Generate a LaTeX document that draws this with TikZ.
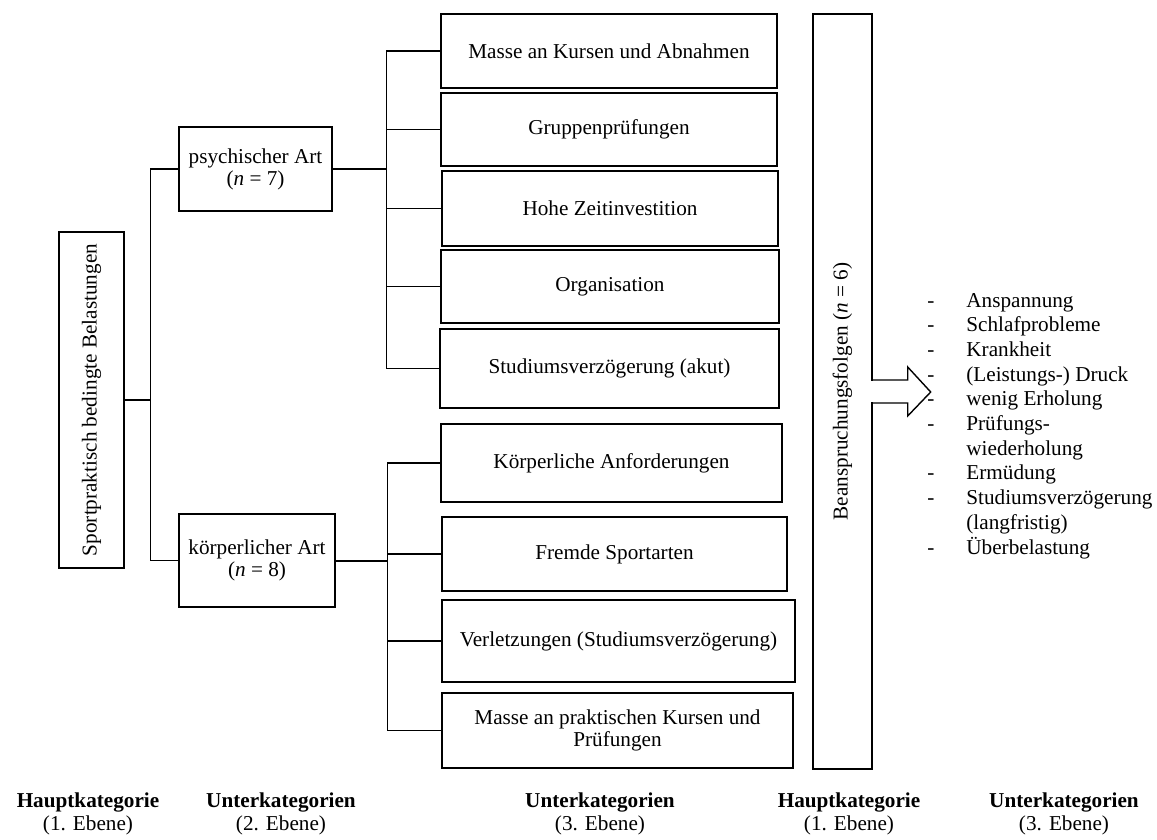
\documentclass[tikz,border=0pt]{standalone}
\usepackage{graphicx}
\usepackage{fontspec}
\setmainfont{Liberation Serif}
\usetikzlibrary{calc}
\begin{document}
\begin{tikzpicture}[x=0.5pt,y=-0.5pt,
  box/.style={draw, line width=0.7pt, inner sep=0pt, align=center, font=\fontsize{10.6}{11}\selectfont},
  link/.style={line width=0.55pt},
  stem/.style={line width=1pt},
  lab/.style={align=center, inner sep=0pt, font=\fontsize{10.6}{11.5}\selectfont}]
\useasboundingbox (0,0) rectangle (1157,840);
% level 1
\node[box, minimum width=32.5pt, minimum height=168pt] (L) at (91.5,400) {\rotatebox{90}{Sportpraktisch bedingte Belastungen}};
% level 2
\node[box, minimum width=76.5pt, minimum height=42pt] (P) at (255.5,169) {psychischer Art\\(\textit{n} = 7)};
\node[box, minimum width=78pt, minimum height=46.5pt] (K) at (257,560.5) {körperlicher Art\\(\textit{n} = 8)};
% level 3 (psychisch)
\node[box, minimum width=168pt, minimum height=37pt] (b1) at (609,51) {Masse an Kursen und Abnahmen};
\node[box, minimum width=168pt, minimum height=36.5pt] (b2) at (609,129.5) {Gruppenprüfungen};
\node[box, minimum width=168pt, minimum height=37.5pt] (b3) at (610,208.5) {Hohe Zeitinvestition};
\node[box, minimum width=169pt, minimum height=36.5pt] (b4) at (610,286.5) {Organisation};
\node[box, minimum width=169.5pt, minimum height=39.5pt] (b5) at (609.5,368.5) {Studiumsverzögerung (akut)};
% level 3 (koerperlich)
\node[box, minimum width=170.5pt, minimum height=39pt] (c1) at (611.5,463) {Körperliche Anforderungen};
\node[box, minimum width=172.5pt, minimum height=37pt] (c2) at (614.5,554) {Fremde Sportarten};
\node[box, minimum width=176.5pt, minimum height=41pt] (c3) at (618.5,641) {Verletzungen (Studiumsverzögerung)};
\node[box, minimum width=175.5pt, minimum height=37.5pt] (c4) at (617.5,730.5) {Masse an praktischen Kursen und\\Prüfungen};
% right main category
\node[box, minimum width=29.5pt, minimum height=377.5pt] (R) at (842.5,391.5) {\rotatebox{90}{Beanspruchungsfolgen (\textit{n} = 6)}};
% connectors
\coordinate (jL) at ($(L.east)+(26,0)$);
\draw[stem] (L.east) -- (jL);
\draw[link] (P.west) -| (jL) |- (K.west);
\coordinate (jP) at ($(P.east)+(54,0)$);
\draw[stem] (P.east) -- (jP);
\draw[link] (b1.west) -| (jP) |- (b5.west);
\foreach \n in {b2,b3,b4} \draw[link] (\n.west) -- (\n.west -| jP);
\coordinate (jK) at ($(K.east)+(52,0)$);
\draw[stem] (K.east) -- (jK);
\draw[link] (c1.west) -| (jK) |- (c4.west);
\foreach \n in {c2,c3} \draw[link] (\n.west) -- (\n.west -| jK);
% block arrow
\begin{scope}[shift={(R.east)}]
\fill[white] (-1.3,-10.8) rectangle (0.3,10.8);
\draw[line width=0.7pt, line join=miter] (0,-11.5) -- (35,-11.5) -- (35,-24.5) -- (58,0.5) -- (35,24.5) -- (35,11.5) -- (0,11.5);
\end{scope}
% list
\node[anchor=base west, inner sep=0pt, font=\fontsize{10.6}{12.35}\selectfont] (list) at (927,307)
{\begin{tabular}[t]{@{}p{19.5pt}@{}l@{}}
- & Anspannung\\
- & Schlafprobleme\\
- & Krankheit\\
- & (Leistungs-) Druck\\
- & wenig Erholung\\
- & Prüfungs-\\
  & wiederholung\\
- & Ermüdung\\
- & Studiumsverzögerung\\
  & (langfristig)\\
- & Überbelastung
\end{tabular}};
% bottom labels
\node[lab] (h1) at (88,813.5) {\textbf{Hauptkategorie}\\(1. Ebene)};
\node[lab] (u2) at (281,813.5) {\textbf{Unterkategorien}\\(2. Ebene)};
\node[lab] (u3) at (600,813.5) {\textbf{Unterkategorien}\\(3. Ebene)};
\node[lab] (h2) at (849,813.5) {\textbf{Hauptkategorie}\\(1. Ebene)};
\node[lab] (u4) at (1064,813.5) {\textbf{Unterkategorien}\\(3. Ebene)};
\end{tikzpicture}
\end{document}
